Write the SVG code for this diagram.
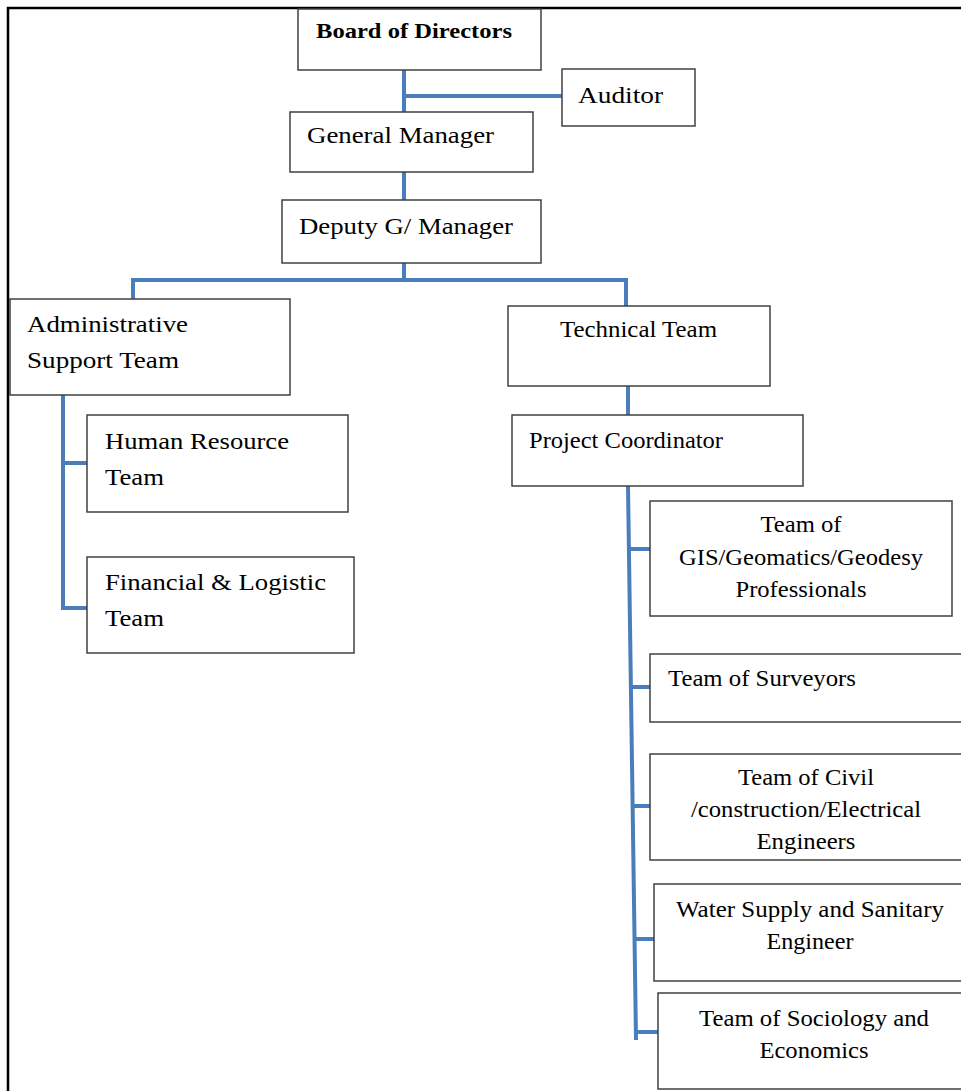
<svg xmlns="http://www.w3.org/2000/svg" width="961" height="1091" viewBox="0 0 961 1091">
<style>
.box{fill:#fff;stroke:#404040;stroke-width:1.5}
.t{font-family:"Liberation Serif","Times New Roman",serif;font-size:24px;fill:#000}
.c{text-anchor:middle}
.b{font-weight:bold;font-size:22px}
.con{fill:none;stroke:#4a7ebb;stroke-width:4}
.frame{fill:none;stroke:#000;stroke-width:2.5}
</style>
<rect width="961" height="1091" fill="#fff"/>
<path class="frame" d="M8 1091V8H961"/>
<g id="connectors">
<path class="con" d="M404 70V112M404 96H562"/>
<path class="con" d="M404 172V200"/>
<path class="con" d="M404 263V280M133 299V280H626V306"/>
<path class="con" d="M628 386V415"/>
<path class="con" d="M63 395V608H87M63 463H87"/>
<path class="con" d="M628 486L636 1040"/>
<path class="con" d="M629 549H650M630 687H650M631 806H650M633 939H654M635 1032H658"/>
</g>
<g id="board"><rect class="box" x="298" y="9" width="243" height="61"/><text class="t b" x="316" y="38" textLength="196" lengthAdjust="spacingAndGlyphs">Board of Directors</text></g>
<g id="auditor"><rect class="box" x="562" y="69" width="133" height="57"/><text class="t" x="578" y="103" textLength="85" lengthAdjust="spacingAndGlyphs">Auditor</text></g>
<g id="gm"><rect class="box" x="290" y="112" width="243" height="60"/><text class="t" x="307" y="143" textLength="187" lengthAdjust="spacingAndGlyphs">General Manager</text></g>
<g id="dgm"><rect class="box" x="282" y="200" width="259" height="63"/><text class="t" x="299" y="234" textLength="214" lengthAdjust="spacingAndGlyphs">Deputy G/ Manager</text></g>
<g id="admin"><rect class="box" x="10" y="299" width="280" height="96"/><text class="t" x="27" y="332" textLength="161" lengthAdjust="spacingAndGlyphs">Administrative</text><text class="t" x="27" y="368" textLength="152" lengthAdjust="spacingAndGlyphs">Support Team</text></g>
<g id="tech"><rect class="box" x="508" y="306" width="262" height="80"/><text class="t" x="560" y="337" textLength="157" lengthAdjust="spacingAndGlyphs">Technical Team</text></g>
<g id="pc"><rect class="box" x="512" y="415" width="291" height="71"/><text class="t" x="529" y="448" textLength="194" lengthAdjust="spacingAndGlyphs">Project Coordinator</text></g>
<g id="hr"><rect class="box" x="87" y="415" width="261" height="97"/><text class="t" x="105" y="449" textLength="184" lengthAdjust="spacingAndGlyphs">Human Resource</text><text class="t" x="105" y="485" textLength="59" lengthAdjust="spacingAndGlyphs">Team</text></g>
<g id="fin"><rect class="box" x="87" y="557" width="267" height="96"/><text class="t" x="105" y="590" textLength="221" lengthAdjust="spacingAndGlyphs">Financial &amp; Logistic</text><text class="t" x="105" y="626" textLength="59" lengthAdjust="spacingAndGlyphs">Team</text></g>
<g id="gis"><rect class="box" x="650" y="501" width="302" height="115"/><text class="t c" x="801" y="532" textLength="81" lengthAdjust="spacingAndGlyphs">Team of</text><text class="t c" x="801" y="565" textLength="244" lengthAdjust="spacingAndGlyphs">GIS/Geomatics/Geodesy</text><text class="t c" x="801" y="597" textLength="131" lengthAdjust="spacingAndGlyphs">Professionals</text></g>
<g id="surv"><rect class="box" x="650" y="654" width="315" height="68"/><text class="t" x="668" y="686" textLength="188" lengthAdjust="spacingAndGlyphs">Team of Surveyors</text></g>
<g id="civil"><rect class="box" x="650" y="754" width="315" height="106"/><text class="t c" x="806" y="785" textLength="136" lengthAdjust="spacingAndGlyphs">Team of Civil</text><text class="t c" x="806" y="817" textLength="230" lengthAdjust="spacingAndGlyphs">/construction/Electrical</text><text class="t c" x="806" y="849" textLength="99" lengthAdjust="spacingAndGlyphs">Engineers</text></g>
<g id="water"><rect class="box" x="654" y="884" width="311" height="97"/><text class="t c" x="810" y="917" textLength="268" lengthAdjust="spacingAndGlyphs">Water Supply and Sanitary</text><text class="t c" x="810" y="949" textLength="87" lengthAdjust="spacingAndGlyphs">Engineer</text></g>
<g id="socio"><rect class="box" x="658" y="993" width="307" height="96"/><text class="t c" x="814" y="1026" textLength="230" lengthAdjust="spacingAndGlyphs">Team of Sociology and</text><text class="t c" x="814" y="1058" textLength="109" lengthAdjust="spacingAndGlyphs">Economics</text></g>
</svg>
